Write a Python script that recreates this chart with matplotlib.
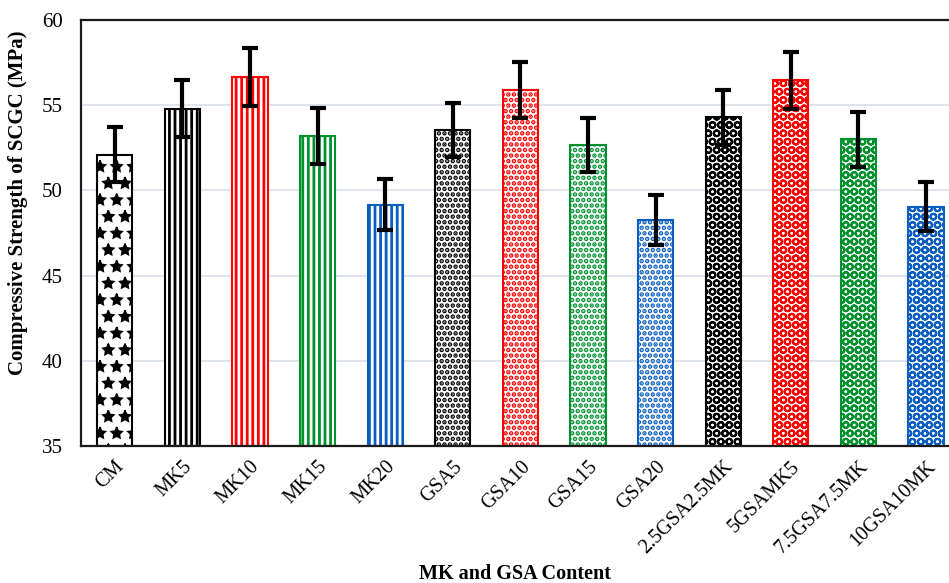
import numpy as np
import matplotlib.pyplot as plt

# valores
mixes = ['CM', 'MK5', 'MK10', 'MK15', 'MK20', 'GSA5', 'GSA10', 'GSA15', 'GSA20',
         '2.5GSA2.5MK', '5GSAMK5', '7.5GSA7.5MK', '10GSA10MK']
strength = [52.1, 54.8, 56.65, 53.2, 49.15, 53.55, 55.9, 52.65, 48.25, 54.3, 56.45, 53.0, 49.05]
error = [1.6, 1.65, 1.7, 1.65, 1.5, 1.6, 1.65, 1.57, 1.47, 1.62, 1.7, 1.6, 1.45]

colors = ['#000000', '#000000', '#FF0000', '#00912F', '#0A5EC0',
          '#000000', '#FF0000', '#00912F', '#0A5EC0',
          '#000000', '#FF0000', '#00912F', '#0A5EC0']
hatches = ['*', '|||', '|||', '|||', '|||',
           '...', '...', '...', '...',
           'OO', 'OO', 'OO', 'OO']
hatch_lw = [1.2, 2.0, 2.0, 2.0, 2.0, 2.3, 2.3, 2.3, 2.3, 1.5, 1.5, 1.5, 1.5]

plt.rcParams['font.family'] = ['Liberation Serif', 'DejaVu Serif']

fig = plt.figure(figsize=(9.49, 5.83), dpi=100)
ax = fig.add_axes([0.0854, 0.235, 0.926, 0.7307])

x = np.arange(len(mixes))
for i in range(len(mixes)):
    plt.rcParams['hatch.linewidth'] = hatch_lw[i]
    bars = ax.bar(x[i], strength[i] - 35, bottom=35, width=0.52, color='white',
                  edgecolor=colors[i], linewidth=1.5, hatch=hatches[i], zorder=2)
    for b in bars:
        if hasattr(b, 'set_hatch_linewidth'):
            b.set_hatch_linewidth(hatch_lw[i])

ax.errorbar(x, strength, yerr=error, fmt='none', ecolor='black', elinewidth=3,
            capsize=5.5, capthick=3, zorder=3)

ax.set_xlim(-0.5, 12.5)
ax.set_ylim(35, 60)
ax.set_yticks([35, 40, 45, 50, 55, 60])
ax.grid(axis='y', color='#D9DEE8', linewidth=1.2, zorder=0)
ax.set_axisbelow(True)
ax.tick_params(axis='y', length=0, labelsize=15, pad=13)
ax.tick_params(axis='x', length=0, pad=8)
ax.set_xticks(x)
ax.set_xticklabels(mixes, rotation=45, ha='right', rotation_mode='anchor', fontsize=14.5)
for s in ax.spines.values():
    s.set_linewidth(1.6)
    s.set_color('#1a1a1a')

fig.text(0.019, 0.652, 'Compressive Strength of SCGC (MPa)', rotation=90, ha='center', va='center',
         fontsize=15, fontweight='bold')
fig.text(0.543, 0.033, 'MK and GSA Content', ha='center', va='top', fontsize=14.5, fontweight='bold')

plt.savefig('out.png', dpi=100)
